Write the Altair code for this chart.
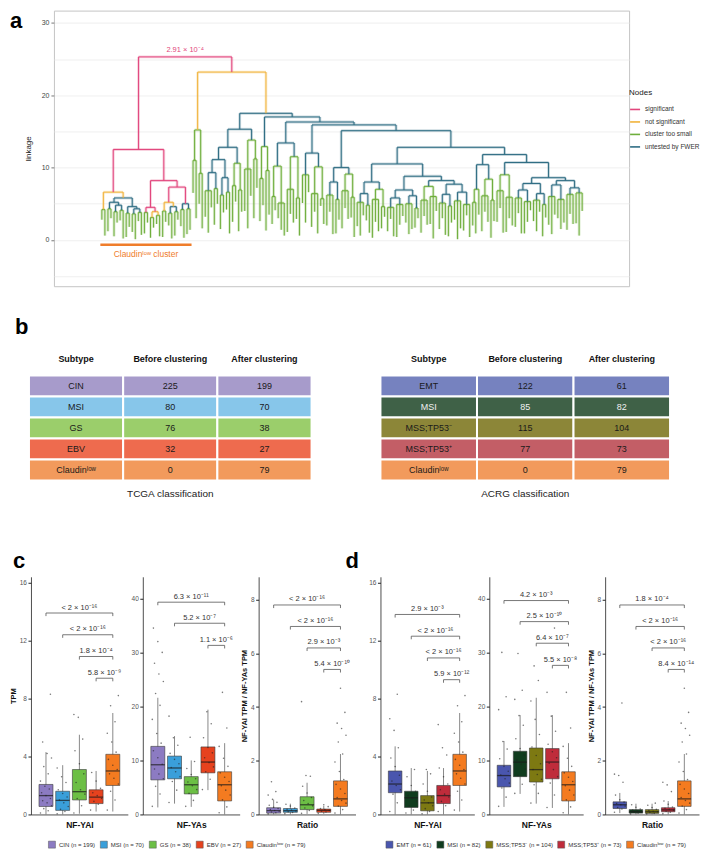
import altair as alt
import pandas as pd

FONT = "Liberation Sans"

# ======================= panel a : dendrogram =======================
node_types = ["significant", "not significant", "cluster too small", "untested by FWER"]
node_colors = ["#E2467D", "#F1B33B", "#6EAE3B", "#2F6D84"]
node_code = {"S": 0, "N": 1, "G": 2, "U": 3}
root_pvalue = "2.91 × 10⁻⁴"
cluster_text = "Claudinˡᵒʷ cluster"


def nd(h, c, *kids):
    return (h, c, kids)


# merge heights (linkage) of the tree; bare numbers are the heights where leaf stems end
left_cluster = nd(12.5, "S",
    nd(6.6, "N",
        nd(4.2, "G", 2.8, 0.6),
        nd(5.8, "U",
            nd(5.2, "U",
                nd(4.3, "G", 1.2, 3.0),
                nd(4.8, "U", nd(3.9, "G", 0.5, 2.4), nd(4.1, "G", 2.7, 0.2))),
            nd(4.6, "U",
                nd(3.7, "G", 0.4, 1.8),
                nd(4.3, "U", nd(3.6, "G", 1.1, 0.1), nd(3.8, "G", 2.6, 0.7))))),
    nd(8.2, "S",
        nd(4.5, "S",
            nd(3.8, "G", 0.9, 2.4),
            nd(3.9, "N", nd(3.1, "G", 0.3, 1.7), nd(3.4, "G", 2.2, 0.5))),
        nd(7.3, "S",
            nd(5.2, "N",
                nd(4.0, "G", 0.4, 2.5),
                nd(4.6, "U", nd(3.7, "G", 2.0, 0.2), nd(3.9, "G", 0.6, 2.8))),
            nd(5.0, "U", nd(4.2, "G", 1.9, 0.3), nd(4.3, "G", 0.8, 1.4)))))

green_cluster = nd(15.2, "G", nd(11.0, "G", 6.5, 3.0), nd(9.2, "G", 5.0, 1.6))

branch_A = nd(15.3, "U",
    nd(12.8, "U",
        nd(11.1, "U",
            nd(9.3, "U", nd(6.8, "G", 3.2, 1.0, 4.5), nd(7.1, "G", 2.1, 5.0)),
            nd(8.6, "U", nd(6.2, "G", 1.5, 3.8), nd(6.6, "G", 4.2, 0.9))),
        nd(10.6, "G", nd(7.5, "G", 2.5, 5.3), nd(6.9, "G", 1.2, 3.9))),
    nd(13.8, "G", nd(9.8, "G", 4.0, 1.6, 6.1), nd(11.2, "G", 3.0, 7.2)))
branch_B1 = nd(12.9, "G", nd(8.5, "G", 2.6, 4.8), nd(9.6, "G", 1.3, 3.5))
branch_C1 = nd(13.4, "U",
    nd(10.2, "G", nd(6.0, "G", 2.2, 4.1), nd(5.1, "G", 3.0, 1.4, 0.6)),
    nd(11.5, "G", nd(7.0, "G", 1.1, 3.6, 2.4), nd(5.8, "G", 2.9, 0.6)))
branch_D1 = nd(12.0, "U",
    nd(9.0, "G", 5.1, 2.4, 6.6),
    nd(10.1, "G", nd(6.4, "G", 1.8, 3.9, 0.9), nd(5.7, "G", 4.7, 2.2)))
branch_E1 = nd(10.0, "U",
    nd(8.0, "U", nd(6.2, "G", 2.0, 3.9, 0.8), nd(5.6, "G", 0.9, 2.8)),
    nd(9.1, "G", nd(6.8, "G", 1.6, 4.4, 2.9), nd(5.9, "G", 3.1, 0.4)))
branch_G1a = nd(8.0, "U",
    nd(6.4, "U", nd(5.2, "G", 1.9, 0.6, 3.4), nd(4.8, "G", 2.7, 1.0)),
    nd(7.0, "G", nd(5.6, "G", 0.3, 2.5, 1.2), nd(4.6, "G", 1.6, 3.2)))
branch_G1b1 = nd(6.9, "U",
    nd(5.8, "U", nd(4.5, "G", 1.2, 2.9, 0.5), nd(4.9, "G", 0.4, 2.1, 3.3)),
    nd(6.1, "U", nd(5.0, "G", 2.4, 0.8, 1.5), nd(4.4, "G", 1.7, 3.0)))
branch_G1b2 = nd(8.2, "U",
    nd(7.4, "G", nd(5.5, "G", 1.0, 3.3, 2.1), nd(6.0, "G", 2.2, 0.2, 4.0)),
    nd(7.7, "U",
        nd(6.3, "U", nd(5.1, "G", 1.5, 3.0, 0.7), nd(4.7, "G", 0.5, 2.4)),
        nd(6.6, "U", nd(5.4, "G", 2.8, 0.1, 1.6), nd(4.9, "G", 1.3, 3.4, 0.4))))
branch_H1 = nd(10.4, "U",
    nd(7.0, "G", nd(5.2, "G", 2.0, 0.9), 3.5),
    nd(8.4, "G", nd(6.1, "G", 1.2, 3.9, 2.5), nd(5.5, "G", 0.3, 2.6)))
branch_H2a = nd(9.0, "G", nd(6.8, "G", 2.5, 4.4, 1.0), nd(5.9, "G", 1.1, 3.0, 2.0))
branch_H3a = nd(7.8, "U",
    nd(6.9, "U", nd(5.8, "G", 1.8, 3.7, 0.9), nd(5.3, "G", 0.9, 2.5, 4.1)),
    nd(6.4, "U", nd(5.5, "G", 2.6, 1.2, 3.9), nd(4.9, "G", 0.5, 3.1)))
branch_H3b = nd(8.2, "U",
    nd(7.6, "U", nd(6.0, "G", 2.1, 0.8, 3.5), nd(5.6, "G", 3.0, 1.5, 2.4)),
    nd(7.2, "U", nd(6.3, "G", 1.4, 3.6, 2.2), nd(6.5, "G", 2.3, 0.6, 4.0)))

branch_H = nd(11.8, "U", branch_H1,
              nd(10.7, "U", branch_H2a, nd(8.6, "U", branch_H3a, branch_H3b)))
branch_G1 = nd(10.5, "U", branch_G1a, nd(8.8, "U", branch_G1b1, branch_G1b2))
branch_F = nd(12.8, "U", branch_G1, branch_H)
blue_cluster = nd(17.5, "U", branch_A,
                  nd(17.0, "U", branch_B1,
                     nd(16.3, "U", branch_C1,
                        nd(15.9, "U", branch_D1,
                           nd(15.1, "U", branch_E1, branch_F)))))
dendro_root = nd(25.3, "S", left_cluster, nd(23.2, "N", green_cluster, blue_cluster))


def place(node, segs, counter):
    if not isinstance(node, tuple):
        x = counter[0]
        counter[0] += 1
        return x, float(node)
    h, c, kids = node
    lab = node_types[node_code[c]]
    pos = [place(k, segs, counter) for k in kids]
    xs = [p[0] for p in pos]
    segs.append({"x": xs[0], "x2": xs[-1], "y": h, "y2": h, "node": lab})
    for kx, ktop in pos:
        segs.append({"x": kx, "x2": kx, "y": h, "y2": ktop, "node": lab})
    return (xs[0] + xs[-1]) / 2.0, h


def count_leaves(node):
    if not isinstance(node, tuple):
        return 1
    return sum(count_leaves(k) for k in node[2])


segs = []
counter = [0]
root_x, root_h = place(dendro_root, segs, counter)
n_leaves = counter[0]
n_left = count_leaves(left_cluster)
seg_df = pd.DataFrame(segs)


def letter_layer(txt, x, y, align="left"):
    return alt.Chart(pd.DataFrame({"t": [txt]})).mark_text(
        fontSize=22, fontWeight="bold", color="black", align=align, baseline="alphabetic"
    ).encode(x=alt.value(x), y=alt.value(y), text="t:N")


def spacer(w, letters=()):
    base = alt.Chart(pd.DataFrame({"s": [0]})).mark_rule(opacity=0).encode(
        x=alt.value(0), x2=alt.value(w), y=alt.value(0))
    return alt.layer(base, *letters).properties(width=w, height=10)


ppl = 481.0 / (n_leaves - 1)
x_dom = [-48.0 / ppl, (n_leaves - 1) + 47.0 / ppl]
x_a = alt.X("x:Q", scale=alt.Scale(domain=x_dom, nice=False, zero=False), axis=None)
y_a = alt.Y("y:Q", scale=alt.Scale(domain=[-6.4, 31.7], nice=False, zero=False),
            axis=alt.Axis(values=[-5, 0, 5, 10, 15, 20, 25, 30],
                          labelExpr="datum.value % 10 === 0 ? datum.label : ''",
                          tickOpacity={"condition": {"test": "datum.value % 10 === 0", "value": 1}, "value": 0},
                          grid=True, gridColor="#ebebeb", gridWidth=0.8, domain=False,
                          tickColor="#777", tickSize=3, labelFontSize=7, labelColor="#444",
                          labelPadding=2, titleFontSize=8, titleFontWeight="normal",
                          titleColor="#222", titlePadding=9),
            title="linkage")
node_scale = alt.Scale(domain=node_types, range=node_colors)
node_legend = alt.Legend(orient="none", legendX=622, legendY=79, title="Nodes",
                         titleFontSize=8, titleFontWeight="normal", titleColor="#222",
                         labelFontSize=6.5, labelColor="#333", symbolType="stroke",
                         symbolStrokeWidth=1.6, symbolSize=100, symbolOpacity=1,
                         rowPadding=2.5, titlePadding=6)

halo = alt.Chart(seg_df).mark_rule(strokeWidth=2.8, opacity=0.25).encode(
    x=x_a, x2="x2:Q", y=y_a, y2="y2:Q",
    color=alt.Color("node:N", scale=node_scale, legend=node_legend))
lines = alt.Chart(seg_df).mark_rule(strokeWidth=1.0).encode(
    x=x_a, x2="x2:Q", y=y_a, y2="y2:Q",
    color=alt.Color("node:N", scale=node_scale, legend=node_legend))
bar_df = pd.DataFrame({"x": [-0.5], "x2": [n_left - 0.5], "y": [-0.68]})
cl_bar = alt.Chart(bar_df).mark_rule(color="#EF7D2B", strokeWidth=2.5).encode(x=x_a, x2="x2:Q", y=y_a)
cl_df = pd.DataFrame({"x": [(n_left - 1) / 2.0], "y": [-2.0], "t": [cluster_text]})
cl_text = alt.Chart(cl_df).mark_text(color="#EF7D2B", fontSize=8.5, baseline="middle").encode(
    x=x_a, y=y_a, text="t:N")
p_df = pd.DataFrame({"x": [root_x], "y": [root_h], "t": [root_pvalue]})
p_text = alt.Chart(p_df).mark_text(color="#E2467D", fontSize=7.5, baseline="bottom", dy=-3).encode(
    x=x_a, y=y_a, text="t:N")

panel_a = alt.layer(halo, lines, cl_bar, cl_text, p_text,
                    letter_layer("a", -44, 17), letter_layer("b", -39, 324)).properties(
    width=576, height=276,
    view=alt.ViewBackground(stroke="#c4c4c4", strokeWidth=1))

# ======================= panel b : tables =======================
table_cols = ["Subtype", "Before clustering", "After clustering"]
tcga_subtypes = ["CIN", "MSI", "GS", "EBV", "Claudinˡᵒʷ"]
tcga_before = [225, 80, 76, 32, 0]
tcga_after = [199, 70, 38, 27, 79]
tcga_fills = ["#A79BCB", "#87C6EA", "#9BCE6B", "#EE6B4E", "#F29A5C"]
tcga_inks = ["#1a1a1a", "#1a1a1a", "#1a1a1a", "#1a1a1a", "#1a1a1a"]
acrg_subtypes = ["EMT", "MSI", "MSS;TP53⁻", "MSS;TP53⁺", "Claudinˡᵒʷ"]
acrg_before = [122, 85, 115, 77, 0]
acrg_after = [61, 82, 104, 73, 79]
acrg_fills = ["#7682BF", "#3F6147", "#8C8638", "#C35E66", "#F29A5C"]
acrg_inks = ["#1a1a1a", "#f0f0f0", "#1a1a1a", "#1a1a1a", "#1a1a1a"]


def make_table(subtypes, before, after, fills, inks, caption, width):
    rows = []
    for r in range(len(subtypes)):
        for col, val in zip(table_cols, [subtypes[r], before[r], after[r]]):
            rows.append({"col": col, "row": r, "y0": r - 0.5, "y1": r + 0.5,
                         "txt": str(val), "fill": fills[r], "ink": inks[r]})
    cells = pd.DataFrame(rows)
    head = pd.DataFrame({"col": table_cols, "row": [-1.31] * 3, "txt": table_cols})
    cap = pd.DataFrame({"col": [table_cols[1]], "row": [5.17], "txt": [caption]})
    xenc = alt.X("col:N", sort=table_cols,
                 scale=alt.Scale(domain=table_cols, paddingInner=0, paddingOuter=0), axis=None)
    ysc = alt.Scale(domain=[-2.0, 6.38], reverse=True, nice=False, zero=False)
    rect = alt.Chart(cells).mark_rect(stroke="white", strokeWidth=2).encode(
        x=xenc, y=alt.Y("y0:Q", scale=ysc, axis=None), y2="y1:Q",
        fill=alt.Fill("fill:N", scale=None))
    txt = alt.Chart(cells).mark_text(fontSize=9).encode(
        x=xenc, y=alt.Y("row:Q", scale=ysc, axis=None), text="txt:N",
        color=alt.Color("ink:N", scale=None))
    hd = alt.Chart(head).mark_text(fontSize=9, fontWeight="bold", color="#111").encode(
        x=xenc, y=alt.Y("row:Q", scale=ysc, axis=None), text="txt:N")
    cp = alt.Chart(cap).mark_text(fontSize=10, color="#222").encode(
        x=xenc, y=alt.Y("row:Q", scale=ysc, axis=None), text="txt:N")
    return alt.layer(rect, txt, hd, cp).properties(width=width, height=176)


table_l = make_table(tcga_subtypes, tcga_before, tcga_after, tcga_fills, tcga_inks,
                     "TCGA classification", 283)
table_r = make_table(acrg_subtypes, acrg_before, acrg_after, acrg_fills, acrg_inks,
                     "ACRG classification", 290)

# ======================= panels c and d : box plots =======================
c_groups = ["CIN (n = 199)", "MSI (n = 70)", "GS (n = 38)", "EBV (n = 27)", "Claudinˡᵒʷ (n = 79)"]
c_colors = ["#8C7BC2", "#3A9FDA", "#6CBF45", "#E6421E", "#F47B20"]
d_groups = ["EMT (n = 61)", "MSI (n = 82)", "MSS;TP53⁻ (n = 104)", "MSS;TP53⁺ (n = 73)", "Claudinˡᵒʷ (n = 79)"]
d_colors = ["#4A56AE", "#103C1E", "#7D7912", "#BF2C3B", "#F47B20"]

# box statistics: q1, median, q3, lower whisker, upper whisker
c_yai_q1 = [0.55, 0.28, 1.00, 0.75, 2.00]
c_yai_med = [1.30, 0.97, 1.57, 1.20, 3.00]
c_yai_q3 = [2.07, 1.60, 3.10, 1.70, 4.15]
c_yai_lo = [0.00, 0.00, 0.05, 0.20, 0.20]
c_yai_hi = [4.30, 3.40, 5.50, 3.00, 7.00]
c_yas_q1 = [6.4, 6.6, 3.8, 7.7, 2.5]
c_yas_med = [9.2, 8.6, 5.5, 9.7, 5.5]
c_yas_q3 = [12.6, 10.8, 7.0, 12.5, 7.9]
c_yas_lo = [1.3, 2.0, 1.4, 4.5, 0.0]
c_yas_hi = [21.6, 14.5, 10.0, 19.4, 13.2]
c_rat_q1 = [0.05, 0.08, 0.18, 0.08, 0.30]
c_rat_med = [0.14, 0.14, 0.36, 0.15, 0.58]
c_rat_q3 = [0.25, 0.22, 0.66, 0.20, 1.25]
c_rat_lo = [0.00, 0.00, 0.02, 0.02, 0.00]
c_rat_hi = [0.55, 0.40, 1.18, 0.32, 2.25]
d_yai_q1 = [1.50, 0.48, 0.25, 0.75, 2.00]
d_yai_med = [2.10, 1.15, 0.80, 1.30, 3.00]
d_yai_q3 = [3.00, 1.60, 1.30, 2.00, 4.15]
d_yai_lo = [0.00, 0.00, 0.00, 0.00, 0.20]
d_yai_hi = [4.70, 3.20, 3.00, 3.20, 7.00]
d_yas_q1 = [5.1, 7.0, 6.0, 6.6, 2.5]
d_yas_med = [7.2, 9.7, 8.3, 9.7, 5.5]
d_yas_q3 = [9.1, 11.7, 12.3, 12.2, 7.9]
d_yas_lo = [1.4, 3.8, 2.0, 1.2, 0.0]
d_yas_hi = [13.6, 18.4, 21.6, 18.4, 13.2]
d_rat_q1 = [0.22, 0.05, 0.04, 0.10, 0.30]
d_rat_med = [0.36, 0.10, 0.10, 0.17, 0.58]
d_rat_q3 = [0.47, 0.18, 0.18, 0.25, 1.25]
d_rat_lo = [0.05, 0.00, 0.00, 0.00, 0.00]
d_rat_hi = [0.80, 0.40, 0.40, 0.50, 2.25]

# sample points (read approximately)
yai_cin = [0.1, 0.25, 0.4, 0.6, 0.8, 0.95, 1.1, 1.3, 1.5, 1.75, 1.95, 2.3, 2.8, 3.3, 3.9, 4.2, 5.0, 8.3]
yai_msi_t = [0.05, 0.2, 0.35, 0.55, 0.8, 1.0, 1.2, 1.45, 1.7, 2.2, 2.6, 3.2]
yai_gs = [0.1, 0.6, 1.1, 1.4, 1.7, 2.2, 2.8, 3.5, 4.4, 5.2, 6.7, 6.9]
yai_ebv = [0.3, 0.7, 0.9, 1.1, 1.3, 1.5, 1.8, 2.3, 2.9]
yai_cl = [0.3, 1.0, 1.6, 2.1, 2.5, 2.8, 3.1, 3.4, 3.8, 4.3, 5.0, 5.6, 6.4, 7.5, 8.2]
yai_emt = [0.2, 0.8, 1.4, 1.7, 2.0, 2.3, 2.7, 3.3, 3.9, 4.6, 5.8, 6.6, 8.3]
yai_msi_a = [0.1, 0.3, 0.6, 0.9, 1.1, 1.3, 1.6, 2.0, 2.6, 3.1]
yai_mssn = [0.05, 0.2, 0.4, 0.6, 0.8, 1.0, 1.2, 1.6, 2.1, 2.8, 3.1]
yai_mssp = [0.2, 0.6, 0.9, 1.2, 1.4, 1.7, 2.1, 2.6, 3.2, 4.1, 4.6, 6.2]

yas_cin = [1.5, 3.8, 5.2, 6.6, 7.5, 8.4, 9.3, 10.5, 11.8, 13.2, 15.0, 17.6, 20.2, 22.4, 24.6, 26.0, 28.0, 30.0, 32.0, 34.5]
yas_msi_t = [2.2, 4.5, 6.1, 7.0, 7.9, 8.7, 9.4, 10.2, 11.3, 12.8, 14.2, 18.2]
yas_gs = [1.5, 2.6, 3.9, 4.6, 5.3, 6.0, 6.6, 7.4, 8.5, 9.8, 14.3]
yas_ebv = [4.6, 6.5, 7.9, 8.8, 9.6, 10.5, 11.4, 12.4, 14.2, 16.8, 19.0]
yas_cl = [0.3, 1.4, 2.7, 3.6, 4.5, 5.3, 6.1, 6.9, 7.7, 8.9, 10.4, 12.6, 16.0, 22.6]
yas_emt = [1.5, 3.2, 4.9, 5.8, 6.6, 7.3, 8.0, 8.9, 10.3, 12.1, 13.5, 19.4, 21.8, 30.0]
yas_msi_a = [3.9, 5.6, 7.2, 8.4, 9.3, 10.1, 11.0, 12.2, 14.0, 16.5, 18.3, 21.3, 23.0, 29.8]
yas_mssn = [2.1, 3.9, 5.5, 6.5, 7.4, 8.3, 9.4, 10.9, 12.5, 14.8, 17.6, 21.0, 24.8, 27.5]
yas_mssp = [1.3, 3.6, 5.8, 7.0, 8.3, 9.5, 10.5, 11.6, 13.0, 15.4, 18.2, 22.6, 34.5]

rat_cin = [0.02, 0.06, 0.09, 0.12, 0.15, 0.18, 0.22, 0.27, 0.34, 0.45, 0.56, 0.72, 0.85, 1.22]
rat_msi_t = [0.03, 0.07, 0.1, 0.13, 0.16, 0.19, 0.24, 0.31, 0.38]
rat_gs = [0.04, 0.15, 0.24, 0.32, 0.41, 0.52, 0.63, 0.8, 1.05, 1.42, 1.45, 4.2]
rat_ebv = [0.04, 0.09, 0.12, 0.15, 0.18, 0.22, 0.29, 0.36]
rat_cl = [0.05, 0.18, 0.31, 0.42, 0.52, 0.63, 0.78, 0.95, 1.12, 1.3, 1.6, 1.95, 2.25, 2.7, 2.95, 3.2, 3.4, 3.8, 4.7]
rat_emt = [0.08, 0.2, 0.26, 0.31, 0.36, 0.41, 0.46, 0.55, 0.72, 1.2, 1.45, 1.5, 4.15]
rat_msi_a = [0.02, 0.05, 0.08, 0.1, 0.13, 0.16, 0.2, 0.27, 0.36]
rat_mssn = [0.02, 0.04, 0.07, 0.1, 0.12, 0.15, 0.19, 0.26, 0.34, 0.42]
rat_mssp = [0.03, 0.08, 0.12, 0.16, 0.19, 0.23, 0.28, 0.38, 0.5, 0.85, 1.1, 1.2]

# significance brackets: from group index -> group index, height, label
c_yai_from, c_yai_to, c_yai_at = [0, 1, 2, 3], [4, 4, 4, 4], [13.9, 12.4, 10.9, 9.4]
c_yai_lab = ["< 2 × 10⁻¹⁶", "< 2 × 10⁻¹⁶", "1.8 × 10⁻⁴", "5.8 × 10⁻⁹"]
c_yas_from, c_yas_to, c_yas_at = [0, 1, 3], [4, 4, 4], [39.3, 35.4, 31.3]
c_yas_lab = ["6.3 × 10⁻¹¹", "5.2 × 10⁻⁷", "1.1 × 10⁻⁶"]
c_rat_from, c_rat_to, c_rat_at = [0, 1, 2, 3], [4, 4, 4, 4], [7.8, 7.0, 6.2, 5.4]
c_rat_lab = ["< 2 × 10⁻¹⁶", "< 2 × 10⁻¹⁶", "2.9 × 10⁻³", "5.4 × 10⁻¹⁰"]
d_yai_from, d_yai_to, d_yai_at = [0, 1, 2, 3], [4, 4, 4, 4], [13.8, 12.3, 10.8, 9.3]
d_yai_lab = ["2.9 × 10⁻³", "< 2 × 10⁻¹⁶", "< 2 × 10⁻¹⁶", "5.9 × 10⁻¹²"]
d_yas_from, d_yas_to, d_yas_at = [0, 1, 2, 3], [4, 4, 4, 4], [39.6, 35.7, 31.7, 27.6]
d_yas_lab = ["4.2 × 10⁻³", "2.5 × 10⁻¹⁰", "6.4 × 10⁻⁷", "5.5 × 10⁻⁸"]
d_rat_from, d_rat_to, d_rat_at = [0, 1, 2, 3], [4, 4, 4, 4], [7.8, 7.0, 6.2, 5.4]
d_rat_lab = ["1.8 × 10⁻⁴", "< 2 × 10⁻¹⁶", "< 2 × 10⁻¹⁶", "8.4 × 10⁻¹⁴"]

yai_ticks, yas_ticks, rat_ticks = [0, 4, 8, 12, 16], [0, 10, 20, 30, 40], [0, 2, 4, 6, 8]
yai_max, yas_max, rat_max = 16.4, 44.0, 8.85


def box_panel(channel, field, groups, colors, stats, pts, br, ymax, ticks, xtitle, ytitle,
              legend, width):
    n = len(groups)
    q1, med, q3, lo, hi = stats
    st = pd.DataFrame({"i": list(range(n)), field: groups, "q1": q1, "med": med,
                       "q3": q3, "lo": lo, "hi": hi})
    pdf = pd.DataFrame([{"i": g, "k": k, "v": v} for g, vals in enumerate(pts) for k, v in enumerate(vals)])
    bfrom, bto, bat, blab = br
    bdf = pd.DataFrame({"a": bfrom, "b": bto, "y": bat, "lab": blab})
    bdf["mid"] = (bdf["a"] + bdf["b"]) / 2.0
    bdf["tip"] = bdf["y"] - ymax * 0.013
    xsc = alt.Scale(domain=[-0.6, n - 0.4], nice=False, zero=False)
    ysc = alt.Scale(domain=[0, ymax], nice=False, zero=False)
    xax = alt.Axis(labels=False, ticks=False, grid=False, domainColor="#222", domainWidth=0.8,
                   titleFontSize=8.5, titleFontWeight="bold", titleColor="#111", titlePadding=6)
    yax = alt.Axis(values=ticks, grid=False, domainColor="#222", domainWidth=0.8, tickColor="#222",
                   tickSize=3, labelFontSize=6.5, labelColor="#555", labelPadding=1.5,
                   titleFontSize=7.5, titleFontWeight="bold", titleColor="#111", titlePadding=2)

    def X(f):
        return alt.X(f, scale=xsc, axis=xax, title=xtitle)

    def Y(f):
        return alt.Y(f, scale=ysc, axis=yax, title=ytitle)

    bw = width / (n + 0.2) * 0.75
    cscale = alt.Scale(domain=groups, range=colors)
    if channel == "fill":
        cenc = {"fill": alt.Fill(field + ":N", scale=cscale, legend=legend)}
    else:
        cenc = {"color": alt.Color(field + ":N", scale=cscale, legend=legend)}
    whisk = alt.Chart(st).mark_rule(color="#6b6b6b", strokeWidth=0.8).encode(x=X("i:Q"), y=Y("lo:Q"), y2="hi:Q")
    box = alt.Chart(st).mark_bar(size=bw, stroke="#3a3a3a", strokeWidth=0.6).encode(
        x=X("i:Q"), y=Y("q1:Q"), y2="q3:Q", **cenc)
    mline = alt.Chart(st).mark_tick(orient="horizontal", size=bw, thickness=1.3, color="#1a1a1a").encode(
        x=X("i:Q"), y=Y("med:Q"))
    dots = alt.Chart(pdf).transform_calculate(
        xj="datum.i + ((datum.k * 7) % 11 - 5) * 0.066").mark_circle(
        size=2.5, color="#222", opacity=0.6).encode(x=X("xj:Q"), y=Y("v:Q"))
    bline = alt.Chart(bdf).mark_rule(color="#555", strokeWidth=0.8).encode(x=X("a:Q"), x2="b:Q", y=Y("y:Q"))
    tip_a = alt.Chart(bdf).mark_rule(color="#555", strokeWidth=0.8).encode(x=X("a:Q"), y=Y("y:Q"), y2="tip:Q")
    tip_b = alt.Chart(bdf).mark_rule(color="#555", strokeWidth=0.8).encode(x=X("b:Q"), y=Y("y:Q"), y2="tip:Q")
    btxt = alt.Chart(bdf).mark_text(fontSize=7.5, baseline="bottom", dy=-1.5, color="#333").encode(
        x=X("mid:Q"), y=Y("y:Q"), text="lab:N")
    return alt.layer(whisk, box, mline, dots, bline, tip_a, tip_b, btxt).properties(width=width, height=238)


def leg(x):
    return alt.Legend(orient="none", legendX=x, legendY=264, direction="horizontal", title=None,
                      symbolType="square", symbolSize=49, symbolStrokeColor="#555",
                      symbolStrokeWidth=0.5, labelFontSize=6.0, labelColor="#333",
                      columnPadding=3, labelOffset=3)


leg_c = leg(40)
leg_d = leg(378)
CW, DW = 97, 94

c1 = box_panel("fill", "grp_c", c_groups, c_colors, (c_yai_q1, c_yai_med, c_yai_q3, c_yai_lo, c_yai_hi),
               [yai_cin, yai_msi_t, yai_gs, yai_ebv, yai_cl],
               (c_yai_from, c_yai_to, c_yai_at, c_yai_lab), yai_max, yai_ticks, "NF-YAI", "TPM",
               leg_c, CW)
c2 = box_panel("fill", "grp_c", c_groups, c_colors, (c_yas_q1, c_yas_med, c_yas_q3, c_yas_lo, c_yas_hi),
               [yas_cin, yas_msi_t, yas_gs, yas_ebv, yas_cl],
               (c_yas_from, c_yas_to, c_yas_at, c_yas_lab), yas_max, yas_ticks, "NF-YAs", None,
               leg_c, CW)
c3 = box_panel("fill", "grp_c", c_groups, c_colors, (c_rat_q1, c_rat_med, c_rat_q3, c_rat_lo, c_rat_hi),
               [rat_cin, rat_msi_t, rat_gs, rat_ebv, rat_cl],
               (c_rat_from, c_rat_to, c_rat_at, c_rat_lab), rat_max, rat_ticks, "Ratio",
               "NF-YAI TPM / NF-YAs TPM", leg_c, CW)
d1 = box_panel("color", "grp_d", d_groups, d_colors, (d_yai_q1, d_yai_med, d_yai_q3, d_yai_lo, d_yai_hi),
               [yai_emt, yai_msi_a, yai_mssn, yai_mssp, yai_cl],
               (d_yai_from, d_yai_to, d_yai_at, d_yai_lab), yai_max, yai_ticks, "NF-YAI", None,
               leg_d, DW)
d2 = box_panel("color", "grp_d", d_groups, d_colors, (d_yas_q1, d_yas_med, d_yas_q3, d_yas_lo, d_yas_hi),
               [yas_emt, yas_msi_a, yas_mssn, yas_mssp, yas_cl],
               (d_yas_from, d_yas_to, d_yas_at, d_yas_lab), yas_max, yas_ticks, "NF-YAs", None,
               leg_d, DW)
d3 = box_panel("color", "grp_d", d_groups, d_colors, (d_rat_q1, d_rat_med, d_rat_q3, d_rat_lo, d_rat_hi),
               [rat_emt, rat_msi_a, rat_mssn, rat_mssp, rat_cl],
               (d_rat_from, d_rat_to, d_rat_at, d_rat_lab), rat_max, rat_ticks, "Ratio",
               "NF-YAI TPM / NF-YAs TPM", leg_d, DW)

row_a = alt.hconcat(spacer(1), panel_a, spacing=0)
row_b = alt.hconcat(spacer(20, [letter_layer("c", 5, 224)]), table_l,
                    spacer(67, [letter_layer("d", 33, 224)]), table_r,
                    spacing=0).resolve_scale(x="independent", y="independent")
row_c = alt.hconcat(spacer(1), c1, spacer(3), c2, c3, spacer(13), d1, spacer(3), d2,
                    spacer(3), d3, spacing=0).resolve_scale(
    x="independent", y="independent", fill="shared", color="shared")

chart = alt.vconcat(row_a, row_b, row_c, spacing=5).resolve_scale(
    x="independent", y="independent", color="independent", fill="independent"
).properties(padding=0).configure(font=FONT).configure_view(stroke=None).configure_axis(
    labelFont=FONT, titleFont=FONT).configure_legend(labelFont=FONT, titleFont=FONT).configure_text(font=FONT)

chart.save("out.html", embed_options={"renderer": "svg", "actions": False})
